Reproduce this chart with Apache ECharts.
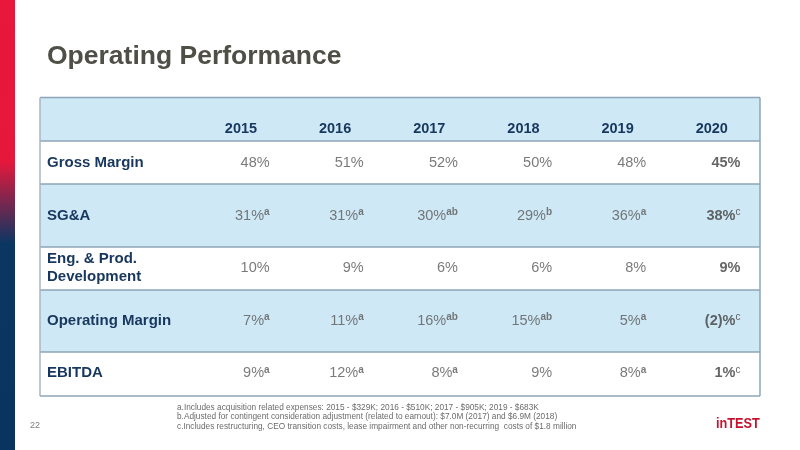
<!DOCTYPE html>
<html>
<head>
<meta charset="utf-8">
<style>
  html, body { margin: 0; padding: 0; background: #fff; }
  #chart { width: 800px; height: 450px; }
</style>
<script src="https://cdn.jsdelivr.net/npm/echarts@6/dist/echarts.min.js"></script>
</head>
<body>
<div id="chart"></div>
<script>
// ---- data ----
const years = ['2015', '2016', '2017', '2018', '2019', '2020'];
const metrics = ['Gross Margin', 'SG&A', 'Eng. & Prod.\nDevelopment', 'Operating Margin', 'EBITDA'];

const grossMargin = [48, 51, 52, 50, 48, 45];
const grossMarginNotes = ['', '', '', '', '', ''];
const sga = [31, 31, 30, 29, 36, 38];
const sgaNotes = ['a', 'a', 'ab', 'b', 'a', 'c'];
const engDev = [10, 9, 6, 6, 8, 9];
const engDevNotes = ['', '', '', '', '', ''];
const operatingMargin = [7, 11, 16, 15, 5, -2];
const operatingMarginNotes = ['a', 'a', 'ab', 'ab', 'a', 'c'];
const ebitda = [9, 12, 8, 9, 8, 1];
const ebitdaNotes = ['a', 'a', 'a', '', 'a', 'c'];

const footnotes = [
  'a.Includes acquisition related expenses: 2015 - $329K; 2016 - $510K; 2017 - $905K; 2019 - $683K',
  'b.Adjusted for contingent consideration adjustment (related to earnout): $7.0M (2017) and $6.9M (2018)',
  'c.Includes restructuring, CEO transition costs, lease impairment and other non-recurring  costs of $1.8 million'
];
const titleText = 'Operating Performance';
const pageNumber = '22';
const logoText = 'inTEST';

// ---- build ----
const rowsValues = [grossMargin, sga, engDev, operatingMargin, ebitda];
const rowsNotes = [grossMarginNotes, sgaNotes, engDevNotes, operatingMarginNotes, ebitdaNotes];
const cells = [];
rowsValues.forEach((row, r) => {
  row.forEach((v, c) => {
    cells.push({ value: [c, r], v: v, note: rowsNotes[r][c], latest: c === years.length - 1 });
  });
});

const navy = '#17375e';
const lightBlue = '#cfe8f5';
const borderC = '#8ea4b8';
const font = "'Liberation Sans', Arial, sans-serif";

// table chrome (layout only)
const tableL = 40, tableR = 760;
const rowEdges = [97.5, 141, 184, 247, 290, 352, 396];
const rowFill = [lightBlue, '#ffffff', lightBlue, '#ffffff', lightBlue, '#ffffff'];

const graphics = [];
// left gradient bar
graphics.push({
  type: 'rect', z: -20, shape: { x: 0, y: 0, width: 15, height: 450 },
  style: {
    fill: {
      type: 'linear', x: 0, y: 0, x2: 0, y2: 1,
      colorStops: [
        { offset: 0, color: '#e8173b' },
        { offset: 0.36, color: '#e5183c' },
        { offset: 0.54, color: '#0c3662' },
        { offset: 1, color: '#0a3460' }
      ]
    }
  }
});
for (let i = 0; i < rowFill.length; i++) {
  graphics.push({
    type: 'rect', z: -15,
    shape: { x: tableL, y: rowEdges[i], width: tableR - tableL, height: rowEdges[i + 1] - rowEdges[i] },
    style: { fill: rowFill[i] }
  });
}
rowEdges.forEach((y) => {
  graphics.push({
    type: 'line', z: -10,
    shape: { x1: tableL, y1: y, x2: tableR, y2: y },
    style: { stroke: borderC, lineWidth: 1.5 }
  });
});
[tableL, tableR].forEach((x) => {
  graphics.push({
    type: 'line', z: -10,
    shape: { x1: x, y1: rowEdges[0], x2: x, y2: rowEdges[rowEdges.length - 1] },
    style: { stroke: x === tableL ? '#a9b6c2' : borderC, lineWidth: 1.5 }
  });
});
// title
graphics.push({
  type: 'text', x: 47, y: 57,
  style: { text: titleText, font: 'bold 26.5px ' + font, fill: '#4f4f47', verticalAlign: 'middle', align: 'left' }
});
// footnotes
graphics.push({
  type: 'text', x: 177, y: 402.5, scaleX: 0.92,
  style: { text: footnotes.join('\n'), font: '9px ' + font, lineHeight: 9.6, fill: '#6b6b6b', verticalAlign: 'top', align: 'left' }
});
// page number
graphics.push({
  type: 'text', x: 30, y: 426,
  style: { text: pageNumber, font: '9px ' + font, fill: '#7f7f7f', verticalAlign: 'middle', align: 'left' }
});
// logo
graphics.push({
  type: 'text', x: 716, y: 424, scaleX: 0.82,
  style: { text: logoText, font: 'bold 15.5px ' + font, fill: '#c4122f', verticalAlign: 'middle', align: 'left' }
});

function fmt(v) {
  return v < 0 ? '(' + (-v) + ')%' : v + '%';
}

const option = {
  animation: false,
  backgroundColor: '#ffffff',
  textStyle: { fontFamily: font },
  grid: { left: 223, right: 12, top: 136.75, bottom: 50.75 },
  xAxis: {
    type: 'category', data: years, position: 'top',
    axisLine: { show: false }, axisTick: { show: false }, splitLine: { show: false },
    axisLabel: {
      align: 'right', padding: [0, 13, 0, 0], margin: 0,
      fontWeight: 'bold', fontSize: 14.5, color: navy, fontFamily: font
    }
  },
  yAxis: {
    type: 'category', data: metrics, inverse: true,
    axisLine: { show: false }, axisTick: { show: false }, splitLine: { show: false },
    axisLabel: {
      align: 'left', margin: 176, fontWeight: 'bold', fontSize: 15,
      color: navy, lineHeight: 18, fontFamily: font
    }
  },
  series: [{
    type: 'scatter',
    symbolSize: 1,
    itemStyle: { color: 'rgba(0,0,0,0)' },
    data: cells,
    label: {
      show: true, position: 'left', distance: 0,
      formatter: function (p) {
        const d = p.data;
        const vs = d.latest ? 'vb' : 'v';
        const ss = d.latest ? 'sb' : 's';
        return '{' + vs + '|' + fmt(d.v) + '}' + (d.note ? '{' + ss + '|' + d.note + '}' : '');
      },
      rich: {
        v: { fontSize: 14.5, color: '#595959', lineHeight: 16, fontFamily: font },
        vb: { fontSize: 14.5, color: '#3f3f3f', fontWeight: 'bold', lineHeight: 16, fontFamily: font },
        s: { fontSize: 10, color: '#595959', fontWeight: 'bold', lineHeight: 10, verticalAlign: 'top', fontFamily: font },
        sb: { fontSize: 10, color: '#3f3f3f', lineHeight: 10, verticalAlign: 'top', fontFamily: font }
      }
    }
  }],
  graphic: graphics
};

const chart = echarts.init(document.getElementById('chart'));
chart.setOption(option);
</script>
</body>
</html>
